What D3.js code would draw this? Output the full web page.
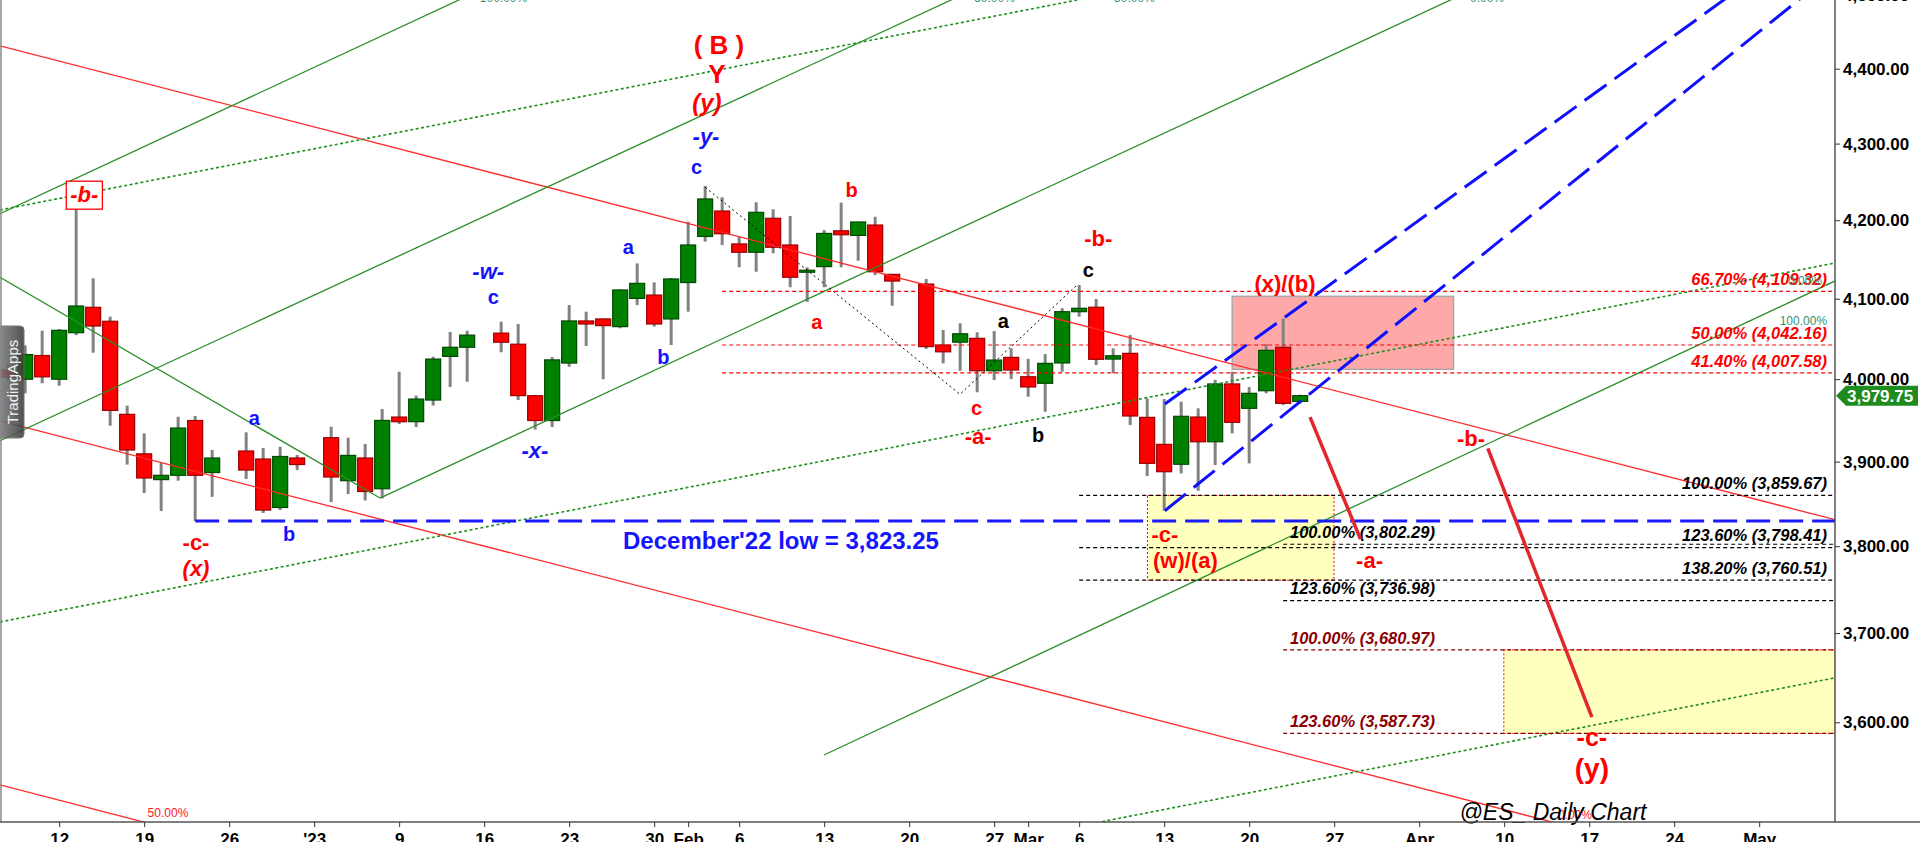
<!DOCTYPE html>
<html><head><meta charset="utf-8">
<script src="https://cdn.jsdelivr.net/npm/d3@7"></script>
<style>
html,body{margin:0;padding:0;background:#fff;overflow:hidden}
svg{display:block;font-family:"Liberation Sans",Arial,sans-serif}
</style></head><body>
<svg id="c" width="1920" height="842"></svg>
<script>
// ---------------- DATA ----------------
const dates = ["2022-12-07","2022-12-08","2022-12-09","2022-12-12","2022-12-13","2022-12-14","2022-12-15","2022-12-16",
"2022-12-19","2022-12-20","2022-12-21","2022-12-22","2022-12-23","2022-12-27","2022-12-28","2022-12-29","2022-12-30",
"2023-01-03","2023-01-04","2023-01-05","2023-01-06","2023-01-09","2023-01-10","2023-01-11","2023-01-12","2023-01-13",
"2023-01-17","2023-01-18","2023-01-19","2023-01-20","2023-01-23","2023-01-24","2023-01-25","2023-01-26","2023-01-27",
"2023-01-30","2023-01-31","2023-02-01","2023-02-02","2023-02-03","2023-02-06","2023-02-07","2023-02-08","2023-02-09","2023-02-10",
"2023-02-13","2023-02-14","2023-02-15","2023-02-16","2023-02-17","2023-02-21","2023-02-22","2023-02-23","2023-02-24",
"2023-02-27","2023-02-28","2023-03-01","2023-03-02","2023-03-03","2023-03-06","2023-03-07","2023-03-08","2023-03-09","2023-03-10",
"2023-03-13","2023-03-14","2023-03-15","2023-03-16","2023-03-17","2023-03-20","2023-03-21","2023-03-22","2023-03-23"];
const opens = [4011.2,3999.9,4029.1,3999.9,4057.4,4089.2,4071.7,3957.0,
3909.3,3878.5,3883.6,3949.5,3886.9,3912.7,3903.1,3845.4,3904.3,
3928.7,3877.2,3904.3,3867.6,3953.7,3948.1,3974.4,4028.0,4039.3,
4056.9,4043.1,3979.7,3949.5,4019.8,4072.1,4074.6,4065.0,4100.4,
4104.6,4074.6,4120.4,4179.1,4211.9,4169.5,4158.9,4202.5,4168.2,4134.0,
4140.6,4186.4,4180.5,4193.8,4130.8,4118.5,4042.1,4045.7,4050.4,
4010.3,4026.8,4002.9,3994.9,4019.9,4083.7,4089.3,4024.7,4031.8,3953.3,
3920.7,3896.8,3953.7,3923.8,3994.1,3964.3,3985.8,4039.3,3972.8];
const highs = [4017.3,4041.7,4059.9,4062.0,4215.4,4125.7,4077.5,3967.5,
3934.0,3898.3,3954.1,3955.0,3913.9,3935.2,3916.3,3917.8,3907.9,
3942.0,3928.7,3921.1,3963.4,4009.1,3979.8,4027.6,4058.3,4059.9,
4071.2,4068.3,3980.7,4027.2,4092.0,4083.7,4075.0,4111.9,4144.7,
4120.7,4126.2,4198.1,4244.4,4229.7,4178.8,4223.2,4214.1,4205.4,4139.7,
4187.3,4222.7,4198.1,4204.5,4131.2,4124.9,4060.8,4069.2,4057.9,
4059.5,4038.0,4025.0,4030.9,4088.0,4117.3,4099.6,4038.0,4054.6,3976.5,
3975.6,3972.4,3964.3,3999.1,4009.1,3990.3,4043.3,4075.2,3981.0];
const lows = [3998.9,3982.6,3994.9,3991.9,4054.4,4032.6,3943.2,3896.4,
3862.5,3841.2,3877.2,3829.6,3858.0,3879.2,3838.9,3842.4,3889.9,
3851.9,3861.3,3853.7,3856.2,3945.3,3941.6,3967.7,3990.3,3996.8,
4033.1,3974.4,3938.5,3941.6,4015.2,4040.9,3999.8,4063.0,4092.0,
4065.0,4042.1,4083.7,4172.4,4168.2,4139.7,4134.1,4157.6,4114.4,4096.1,
4114.4,4139.7,4148.1,4129.9,4091.1,4037.2,4019.4,4010.3,3983.9,
3998.9,4000.1,3978.5,3960.1,4009.1,4077.5,4017.3,4007.2,3944.1,3882.8,
3841.6,3885.9,3865.2,3895.9,3934.0,3897.9,3982.6,3968.3,3970.0];
const closes = [4002.3,4030.3,4002.8,4060.4,4090.8,4065.8,3961.8,3913.9,
3880.4,3883.6,3940.4,3883.6,3904.3,3889.9,3842.4,3906.1,3896.5,
3881.6,3907.4,3864.4,3949.6,3948.0,3975.6,4024.7,4039.3,4054.4,
4045.6,3979.8,3949.5,4023.7,4072.1,4068.3,4066.3,4111.0,4119.4,
4068.3,4124.9,4168.2,4227.5,4182.6,4158.9,4210.2,4165.3,4127.1,4136.0,
4183.0,4181.3,4197.7,4134.1,4122.3,4040.1,4033.7,4056.1,4010.3,
4023.5,4011.2,3990.4,4019.4,4083.7,4088.0,4024.4,4028.8,3955.0,3897.9,
3887.9,3954.6,3923.8,3994.1,3947.3,3982.6,4035.5,3970.4,3979.75];

const yTicks = [3600,3700,3800,3900,4000,4100,4200,4300,4400,4500];
const xTickDates = ["2022-12-12","2022-12-19","2022-12-26","2023-01-02","2023-01-09","2023-01-16","2023-01-23","2023-01-30","2023-02-01",
"2023-02-06","2023-02-13","2023-02-20","2023-02-27","2023-03-01","2023-03-06","2023-03-13","2023-03-20","2023-03-27","2023-04-03",
"2023-04-10","2023-04-17","2023-04-24","2023-05-01"];
const xTickLabels = ["12","19","26","'23","9","16","23","30","Feb","6","13","20","27","Mar","6","13","20","27","Apr","10","17","24","May"];

// fibonacci levels
const fibRedLevels = [4109.32,4042.16,4007.58];
const fibRedPct = ["66.70%","50.00%","41.40%"];
const fibBlackRightLevels = [3859.67,3798.41,3760.51];
const fibBlackRightPct = ["100.00%","123.60%","138.20%"];
const fibBlackLeftLevels = [3802.29,3736.98];
const fibBlackLeftPct = ["100.00%","123.60%"];
const fibDarkLevels = [3680.97,3587.73];
const fibDarkPct = ["100.00%","123.60%"];

const decemberLowLine = 3829.6;   // level where the blue line is drawn
const decemberLowText = "December'22 low = 3,823.25";

// zones [startBar, endBar, priceTop, priceBottom]
const pinkZone = [69.0, 82.02, 4103, 4012];
const yellowZones = [[64.02, 74.99, 3859.67, 3760.51],[84.98, 104.46, 3680.97, 3587.73]];

// trend lines: points as [bar index (weekdays from 12 Dec 2022), price]
const redLines = [[[-3.48,4431],[104.46,3831]],[[-3.48,3949],[104.46,3414]],[[-3.48,3531.5],[20.05,3421]]];
const greenLines = [[[-3.48,4208.4],[31.81,4585.4]],[[-3.48,3925],[61.22,4590]],[[-3.48,4127],[18.87,3856.6]],
  [[18.87,3856.6],[90.6,4590.4]],[[44.99,3564],[104.46,4122.4]]];
const greenDotLines = [[[-3.48,4213.2],[72.99,4554.1]],[[-3.48,3712.6],[104.46,4145.2]],[[61.34,3491.8],[104.46,3649.5]]];
const blueChannel = [[[65.04,3969.5],[104.46,4606.3]],[[65.04,3841.6],[104.46,4534.5]]];
const projection = [[[73.58,3953.7],[76.55,3808.2]],[[84.04,3915.8],[90.16,3605.8]]];
const zigzag = [[38,4242.7],[52.99,3981.4],[59.9,4117.8]];

// wave labels [text, bar, price, kind]
const waveLabels = [
 ["-c-",8.05,3804.6,"redH"],["(x)",8.05,3774.8,"redItal"],
 ["a",11.48,3952.2,"blue"],["b",13.52,3813.9,"blue"],
 ["-w-",25.24,4134.1,"blueItal"],["c",25.54,4102.5,"blue"],["-x-",27.99,3913.9,"blueItal"],
 ["a",33.48,4166.0,"blue"],["b",35.54,4027.6,"blue"],["c",37.5,4269.6,"blue"],["-y-",38.05,4310.0,"blueItal"],
 ["(y)",38.1,4353.9,"redItalBig"],["Y",38.69,4393.5,"redBig"],["( B )",38.81,4432.1,"redBig"],
 ["b",46.62,4239.2,"red"],["a",44.56,4071.2,"red"],["c",53.97,3964.3,"red"],["-a-",54.06,3930.0,"redH"],
 ["a",55.54,4072.5,"black"],["b",57.59,3932.1,"black"],["c",60.54,4136.2,"black"],["-b-",61.12,4176.8,"redH"],
 ["(x)/(b)",72.11,4119.8,"redMid"],["-c-",65.04,3814.4,"redH"],["(w)/(a)",66.25,3784.1,"redMid"],
 ["-a-",77.08,3783.3,"redH"],["-b-",83.05,3928.2,"redH"],["-c-",90.16,3583.0,"redC"],["(y)",90.16,3549.5,"redY"]
];
const boxedLabel = ["-b-",1.48,4233.3];
// small line tags [text, bar, price, kind]
const lineTags = [
 ["100.00%",26.14,4496.6,"g"],["50.00%",55.02,4496.6,"g"],["50.00%",63.25,4496.6,"g"],["0.00%",83.99,4496.6,"g"],
 ["100.00%",102.6,4071.9,"g"],["0.00%",102.7,4122.5,"g"],["50.00%",6.4,3501.1,"r"],["0.00%",89.16,3499,"r"]
];
const watermark = ["@ES_ Daily Chart",87.87,3502.2];

// ---------------- CHART ----------------
const plotR = 1835, plotB = 822;
const fmt2 = d3.format(",.2f");
function wd(s){
  const d = Date.parse(s+"T00:00:00Z"), base = Date.UTC(2022,11,12);
  const days = Math.round((d-base)/864e5);
  const w = Math.floor(days/7), r = ((days%7)+7)%7;
  return w*5 + Math.min(r,5);
}
const x = d3.scaleLinear().domain([-3.48,104.46]).range([0,plotR]);
const y = d3.scaleLog().domain([3600,4400]).range([722.3,68.7]);
const line = d3.line().x(d=>x(d[0])).y(d=>y(d[1]));

const svg = d3.select("#c");
const defs = svg.append("defs");
defs.append("clipPath").attr("id","clip").append("rect").attr("x",0).attr("y",0).attr("width",plotR).attr("height",plotB);
const lg = defs.append("linearGradient").attr("id","logo").attr("x1",0).attr("x2",1).attr("y1",0).attr("y2",0);
lg.append("stop").attr("offset","0%").attr("stop-color","#8a8a8a");
lg.append("stop").attr("offset","100%").attr("stop-color","#3a3a3a");

svg.append("rect").attr("width",1920).attr("height",842).attr("fill","#fff");
const plot = svg.append("g").attr("clip-path","url(#clip)");

// zones
plot.append("rect").attr("x",x(pinkZone[0])).attr("y",y(pinkZone[2]))
  .attr("width",x(pinkZone[1])-x(pinkZone[0])).attr("height",y(pinkZone[3])-y(pinkZone[2]))
  .attr("fill","#ffa8a8").attr("stroke","#a8a8a8").attr("stroke-width",1.5);
plot.selectAll("rect.yz").data(yellowZones).join("rect").attr("class","yz")
  .attr("x",d=>x(d[0])).attr("y",d=>y(d[2])).attr("width",d=>x(d[1])-x(d[0])).attr("height",d=>y(d[3])-y(d[2]))
  .attr("fill","#ffffbe").attr("stroke","#ff0000").attr("stroke-width",1).attr("stroke-dasharray","2,2");

// candles
const candles = dates.map((d,k)=>({i:wd(d),o:opens[k],h:highs[k],l:lows[k],c:closes[k]}));
const cg = plot.append("g");
cg.selectAll("line.wk").data(candles).join("line").attr("class","wk")
  .attr("x1",d=>x(d.i)).attr("x2",d=>x(d.i)).attr("y1",d=>y(d.h)).attr("y2",d=>y(d.l))
  .attr("stroke","#828282").attr("stroke-width",3);
cg.selectAll("rect.bd").data(candles).join("rect").attr("class","bd")
  .attr("x",d=>x(d.i)-7.5).attr("width",15)
  .attr("y",d=>y(Math.max(d.o,d.c))).attr("height",d=>Math.max(2,Math.abs(y(d.o)-y(d.c))))
  .attr("fill",d=>d.c>=d.o?"#008000":"#ff0000").attr("stroke",d=>d.c>=d.o?"#004a00":"#9a0000").attr("stroke-width",1.2);

// trend lines
function drawLines(arr, stroke, w, dash){
  plot.append("g").selectAll("path").data(arr).join("path").attr("d",line)
    .attr("fill","none").attr("stroke",stroke).attr("stroke-width",w).attr("stroke-dasharray",dash);
}
drawLines(redLines,"#ff2a2a",1.3,null);
drawLines(greenLines,"#2a8f2a",1.3,null);
drawLines(greenDotLines,"#1f8f1f",1.6,"3,2.5");

// fib lines
function fibSet(levels, pcts, from, color, align){
  const g = plot.append("g");
  g.selectAll("line").data(levels).join("line").attr("x1",x(from)).attr("x2",x(104.46))
    .attr("y1",d=>y(d)).attr("y2",d=>y(d)).attr("stroke",color).attr("stroke-width",1.2).attr("stroke-dasharray","4,3");
  g.selectAll("text").data(levels).join("text")
    .attr("x",align==="end"?x(103.99):x(72.4)).attr("y",d=>y(d)-12).attr("dy","0.35em")
    .attr("text-anchor",align).attr("fill",color).attr("font-size",16.5).attr("font-weight","bold").attr("font-style","italic")
    .text((d,k)=>`${pcts[k]} (${fmt2(d)})`);
}
fibSet(fibRedLevels,fibRedPct,39,"#ff0000","end");
fibSet(fibBlackRightLevels,fibBlackRightPct,60,"#000000","end");
fibSet(fibBlackLeftLevels,fibBlackLeftPct,72,"#000000","start");
fibSet(fibDarkLevels,fibDarkPct,72,"#8b0000","start");

// blue lines
plot.append("line").attr("x1",x(8)).attr("x2",x(104.46)).attr("y1",y(decemberLowLine)).attr("y2",y(decemberLowLine))
  .attr("stroke","#1a1aff").attr("stroke-width",3).attr("stroke-dasharray","24,9");
drawLines(blueChannel,"#0f0fff",3,"27,10");
drawLines(projection,"#e3262e",3.5,null);
plot.append("path").attr("d",line(zigzag)).attr("fill","none").attr("stroke","#000").attr("stroke-width",1).attr("stroke-dasharray","2,3");

// labels
const styles = {
  blue:{c:"#1212ff",s:20,w:"bold",i:"normal"}, blueItal:{c:"#1212ff",s:22,w:"bold",i:"italic"},
  red:{c:"#ff0000",s:20,w:"bold",i:"normal"}, redH:{c:"#ff0000",s:22,w:"bold",i:"normal"},
  redItal:{c:"#ff0000",s:22,w:"bold",i:"italic"}, redMid:{c:"#ff0000",s:22,w:"bold",i:"normal"},
  redBig:{c:"#ff0000",s:26,w:"bold",i:"normal"}, redItalBig:{c:"#ff0000",s:24,w:"bold",i:"italic"},
  redC:{c:"#ff0000",s:25,w:"bold",i:"normal"}, redY:{c:"#ff0000",s:28,w:"bold",i:"normal"},
  black:{c:"#000",s:20,w:"bold",i:"normal"}
};
const lab = svg.append("g");
lab.selectAll("text.wl").data(waveLabels).join("text").attr("class","wl")
  .attr("x",d=>x(d[1])).attr("y",d=>y(d[2])).attr("dy","0.35em").attr("text-anchor","middle")
  .attr("fill",d=>styles[d[3]].c).attr("font-size",d=>styles[d[3]].s).attr("font-weight",d=>styles[d[3]].w)
  .attr("font-style",d=>styles[d[3]].i).attr("xml:space","preserve").style("white-space","pre").text(d=>d[0]);

// boxed label
const bx = lab.append("g");
const bt = bx.append("text").attr("x",x(boxedLabel[1])).attr("y",y(boxedLabel[2])).attr("dy","0.35em").attr("text-anchor","middle")
  .attr("fill","#ff0000").attr("font-size",22).attr("font-weight","bold").attr("font-style","italic").text(boxedLabel[0]);
const bb = bt.node().getBBox();
bx.insert("rect","text").attr("x",bb.x-4).attr("y",bb.y-1).attr("width",bb.width+8).attr("height",bb.height+3)
  .attr("fill","#fff").attr("stroke","#ff0000").attr("stroke-width",1.3);

lab.selectAll("text.lt").data(lineTags).join("text").attr("class","lt")
  .attr("x",d=>x(d[1])).attr("y",d=>y(d[2])).attr("dy","0.35em").attr("text-anchor","middle")
  .attr("fill",d=>d[3]==="g"?"#3a9070":"#ff2020").attr("font-size",12).text(d=>d[0]);

lab.append("text").attr("x",x(42.46)).attr("y",y(3806.0)).attr("dy","0.35em").attr("text-anchor","middle")
  .attr("fill","#1414ff").attr("font-size",24).attr("font-weight","bold").text(decemberLowText);
lab.append("text").attr("x",x(watermark[1])).attr("y",y(watermark[2])).attr("dy","0.35em").attr("text-anchor","middle")
  .attr("fill","#000").attr("font-size",23).attr("font-style","italic").text(watermark[0]);

// logo
svg.append("rect").attr("x",-6).attr("y",326).attr("width",30).attr("height",112).attr("rx",4)
  .attr("fill","url(#logo)").attr("opacity",0.88).attr("stroke","#666");
svg.append("text").attr("transform","translate(13,382) rotate(-90)").attr("text-anchor","middle").attr("dy","0.35em")
  .attr("fill","#f2f2f2").attr("font-size",15).text("TradingApps");

// frame lines
svg.append("line").attr("x1",1).attr("x2",1).attr("y1",0).attr("y2",plotB).attr("stroke","#888").attr("stroke-width",1.5);
svg.append("line").attr("x1",plotR).attr("x2",plotR).attr("y1",0).attr("y2",plotB).attr("stroke","#555").attr("stroke-width",1.5);
svg.append("line").attr("x1",0).attr("x2",1920).attr("y1",plotB).attr("y2",plotB).attr("stroke","#555").attr("stroke-width",1.5);

// axes
const ya = svg.append("g").attr("transform",`translate(${plotR},0)`)
  .call(d3.axisRight(y).tickValues(yTicks).tickFormat(fmt2).tickSize(5).tickPadding(3));
ya.select(".domain").remove();
ya.selectAll("line").attr("stroke","#333");
ya.selectAll("text").attr("font-size",17).attr("font-weight","bold").attr("fill","#000").attr("font-family","'Liberation Sans',Arial,sans-serif");

const xa = svg.append("g").attr("transform",`translate(0,${plotB})`)
  .call(d3.axisBottom(x).tickValues(xTickDates.map(wd)).tickFormat((d,k)=>xTickLabels[k]).tickSize(5));
xa.select(".domain").remove();
xa.selectAll("line").attr("stroke","#333");
xa.selectAll("text").attr("y",23).attr("dy",0).attr("font-size",17).attr("font-weight","bold").attr("fill","#000")
  .attr("font-family","'Liberation Sans',Arial,sans-serif");

// last price tag
const last = closes[closes.length-1], yl = y(last);
svg.append("path").attr("d",`M${plotR+1},${yl} L${plotR+11},${yl-10} L1918,${yl-10} L1918,${yl+10} L${plotR+11},${yl+10} Z`)
  .attr("fill","#1f8b1f");
svg.append("text").attr("x",plotR+12).attr("y",yl).attr("dy","0.36em").attr("fill","#fff")
  .attr("font-size",17).attr("font-weight","bold").text(fmt2(last));
</script>
</body></html>
